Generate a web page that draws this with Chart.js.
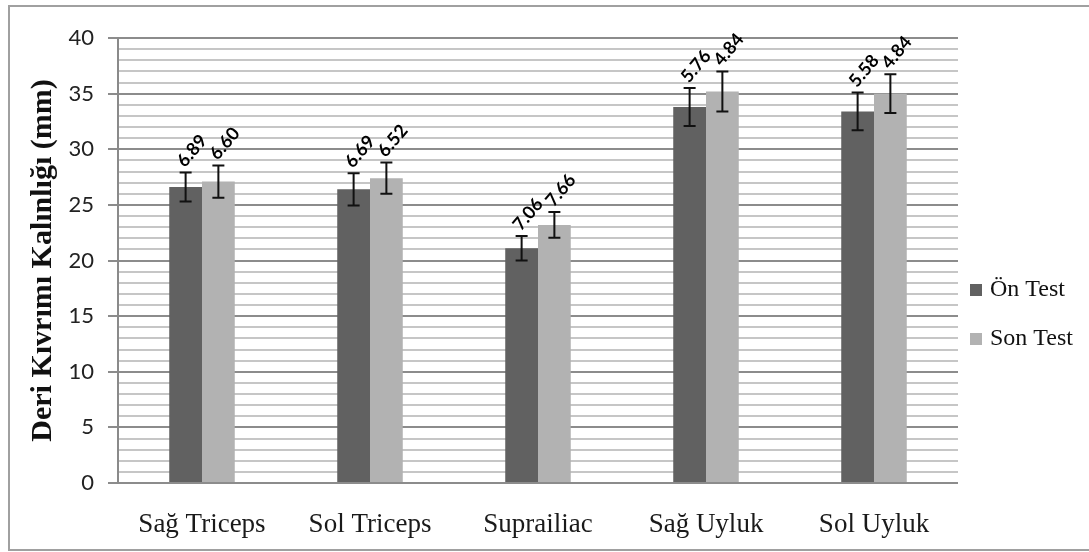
<!DOCTYPE html>
<html>
<head>
<meta charset="utf-8">
<script src="https://cdn.jsdelivr.net/npm/chart.js@4"></script>
<style>
  html, body { margin: 0; padding: 0; background: #fff; }
  #wrap { width: 1089px; height: 552px; }
</style>
</head>
<body>
<div id="wrap"><canvas id="skinfoldChart" width="1089" height="552"></canvas></div>
<script>
var categories = ['Sağ Triceps', 'Sol Triceps', 'Suprailiac', 'Sağ Uyluk', 'Sol Uyluk'];
var onTest = [26.6, 26.4, 21.1, 33.8, 33.4];
var sonTest = [27.1, 27.4, 23.2, 35.2, 35.0];
var onErr = [1.3, 1.45, 1.1, 1.7, 1.7];
var sonErr = [1.45, 1.4, 1.15, 1.8, 1.75];
var onLabels = ['6.89', '6.69', '7.06', '5.76', '5.58'];
var sonLabels = ['6.60', '6.52', '7.66', '4.84', '4.84'];
var seriesNames = ['Ön Test', 'Son Test'];

var serif = '"Liberation Serif", "Times New Roman", serif';
var sans = 'Lato, "Open Sans", sans-serif';

// frame around the whole figure
var framePlugin = {
    id: 'frame',
    beforeDraw: function (chart) {
        var c = chart.ctx;
        c.save();
        c.fillStyle = '#fff';
        c.fillRect(0, 0, chart.width, chart.height);
        c.strokeStyle = '#a0a0a0';
        c.lineWidth = 2;
        c.strokeRect(9, 6, chart.width + 10, 544);
        c.restore();
    }
};

// error bars + rotated value labels
var errorPlugin = {
    id: 'errorBars',
    afterDatasetsDraw: function (chart) {
        var c = chart.ctx;
        var y = chart.scales.y;
        var errs = [onErr, sonErr];
        var texts = [onLabels, sonLabels];
        chart.data.datasets.forEach(function (ds, di) {
            var meta = chart.getDatasetMeta(di);
            meta.data.forEach(function (bar, i) {
                var v = ds.data[i];
                var top = y.getPixelForValue(v + errs[di][i]);
                var bot = y.getPixelForValue(v - errs[di][i]);
                c.save();
                c.strokeStyle = '#111';
                c.lineWidth = 2;
                c.beginPath();
                c.moveTo(bar.x, top); c.lineTo(bar.x, bot);
                c.moveTo(bar.x - 6, top); c.lineTo(bar.x + 6, top);
                c.moveTo(bar.x - 6, bot); c.lineTo(bar.x + 6, bot);
                c.stroke();
                c.translate(bar.x - 5, top - 8);
                c.rotate(-50 * Math.PI / 180);
                c.fillStyle = '#000';
                c.font = 'bold 18px ' + sans;
                c.textAlign = 'left';
                c.textBaseline = 'middle';
                c.fillText(texts[di][i], 0, 0);
                c.restore();
            });
        });
    }
};

// legend on the right
var legendPlugin = {
    id: 'sideLegend',
    afterDraw: function (chart) {
        var c = chart.ctx;
        var ys = [290, 339];
        c.save();
        chart.data.datasets.forEach(function (ds, di) {
            c.fillStyle = ds.backgroundColor;
            c.fillRect(970, ys[di] - 6, 12, 12);
            c.fillStyle = '#111';
            c.font = '24px ' + serif;
            c.textAlign = 'left';
            c.textBaseline = 'middle';
            c.fillText(ds.label, 990, ys[di]);
        });
        c.restore();
    }
};

document.addEventListener('DOMContentLoaded', function () {
    var ctx = document.getElementById('skinfoldChart').getContext('2d');
    var skinfoldChart = new Chart(ctx, {
        type: 'bar',
        data: {
            labels: categories,
            datasets: [{
                label: seriesNames[0],
                data: onTest,
                backgroundColor: '#616161'
            }, {
                label: seriesNames[1],
                data: sonTest,
                backgroundColor: '#b2b2b2'
            }]
        },
        options: {
            responsive: false,
            animation: false,
            layout: { padding: { top: 38, right: 131, bottom: 0, left: 0 } },
            datasets: {
                bar: { categoryPercentage: 0.39, barPercentage: 1.0 }
            },
            plugins: {
                legend: { display: false },
                tooltip: { enabled: false }
            },
            scales: {
                x: {
                    grid: { display: false },
                    border: { display: false },
                    ticks: {
                        color: '#1a1a1a',
                        padding: 18,
                        font: { family: serif, size: 27 }
                    },
                    afterFit: function (scale) { scale.height = 69; }
                },
                y: {
                    min: 0,
                    max: 40,
                    border: { display: true, color: '#8a8a8a', width: 2 },
                    grid: {
                        lineWidth: 2,
                        tickLength: 10,
                        color: function (c) { return c.tick && c.tick.value % 5 === 0 ? '#8c8c8c' : '#c6c6c6'; },
                        tickColor: function (c) { return c.tick && c.tick.value % 5 === 0 ? '#8c8c8c' : 'rgba(0,0,0,0)'; }
                    },
                    ticks: {
                        stepSize: 1,
                        autoSkip: false,
                        padding: 14,
                        color: '#222',
                        font: { family: sans, size: 22 },
                        callback: function (v) { return v % 5 === 0 ? v : ''; }
                    },
                    title: {
                        display: true,
                        text: 'Deri Kıvrımı Kalınlığı (mm)',
                        color: '#111',
                        font: { family: serif, size: 30, weight: 'bold' },
                        padding: { top: 25, bottom: 0 }
                    },
                    afterFit: function (scale) { scale.width = 118; }
                }
            }
        },
        plugins: [framePlugin, errorPlugin, legendPlugin]
    });
});
</script>
</body>
</html>
